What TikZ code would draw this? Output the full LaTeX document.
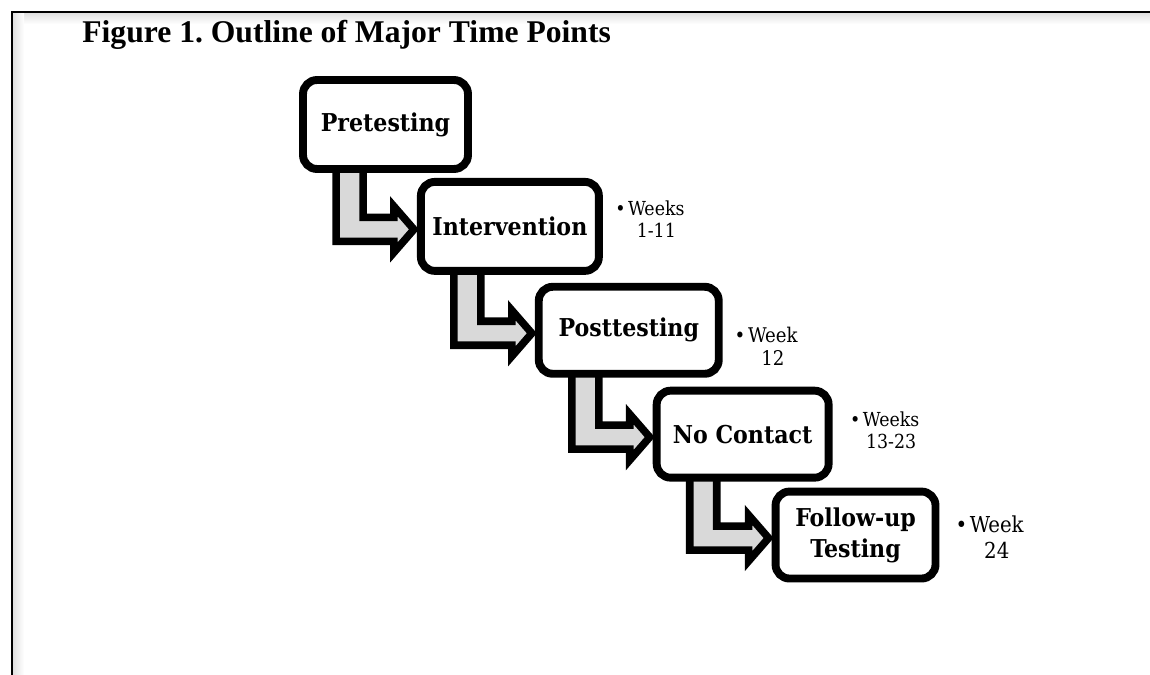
\documentclass[tikz,border=0pt]{standalone}
\usepackage{fontspec}
\setmainfont{DejaVu Serif Condensed}
\newfontfamily\titlefont{Liberation Serif}
\usetikzlibrary{positioning, calc, backgrounds}
\frenchspacing

\tikzset{
  stepbox/.style={rectangle, draw, rounded corners=0.28cm, line width=4.5pt, fill=white,
    inner sep=0pt, align=center, font=\fontsize{14}{17.5}\selectfont\bfseries},
  weeks/.style={inner sep=0pt, align=center, font=\fontsize{11}{12.5}\selectfont},
  bentarrow/.style={draw, line width=4.3pt, fill=black!15, line join=miter}
}

% bent arrow from the bottom of #1 into the left side of #2
\newcommand{\stepdown}[2]{%
  \coordinate (#1-a) at ($(#1.south west)+(37,-10)$);
  \coordinate (#1-b) at ($(#1.south west)+(64,-10)$);
  \coordinate (#1-t) at ($(#2.west)+(-3,3)$);
  \draw[bentarrow] (#1-a) |- ($(#1-t)+(-20,12)$) -- ++(0,11) -- (#1-t)
    -- ++(-20,-23) -- ++(0,11) -| (#1-b) -- cycle;
}
\newcommand{\wk}{\llap{\textbullet\hspace{1.5pt}}}

\begin{document}
\begin{tikzpicture}[x=0.02cm, y=-0.02cm]
  \useasboundingbox (0,0) rectangle (1150,675);

  % frame
  \shade[top color=black!12, bottom color=white] (13,13) rectangle (1150,24);
  \shade[left color=black!12, right color=white] (13,13) rectangle (24,675);
  \draw[line width=1.5pt] (12,675) -- (12,12) -- (1150,12);

  % title
  \node[anchor=base west, inner sep=0pt, font=\titlefont\bfseries\fontsize{18}{20}\selectfont]
    (T) at (82,43) {Figure 1. Outline of Major Time Points};

  % time points
  \node[stepbox, minimum width=3.3cm, minimum height=1.78cm] (PT) at (385.5,124.5) {Pretesting};
  \node[stepbox, minimum width=3.56cm, minimum height=1.78cm, below right=0.1cm and -1.1cm of PT] (IV) {Intervention};
  \node[stepbox, minimum width=3.6cm, minimum height=1.74cm, below right=0.16cm and -1.36cm of IV] (PO) {Posttesting};
  \node[stepbox, minimum width=3.44cm, minimum height=1.74cm, below right=0.18cm and -1.4cm of PO] (NC) {No Contact};
  \node[stepbox, minimum width=3.2cm, minimum height=1.74cm, below right=0.12cm and -1.22cm of NC] (FU) {Follow-up\\Testing};

  % weeks
  \node[weeks, right=0.5cm of IV, yshift=0.14cm] (LIV) {\wk Weeks\\1-11};
  \node[weeks, right=0.5cm of PO, yshift=-0.32cm, font=\fontsize{11.5}{13}\selectfont] (LPO) {\wk Week\\12};
  \node[weeks, right=0.6cm of NC, yshift=0.08cm] (LNC) {\wk Weeks\\13-23};
  \node[weeks, right=0.6cm of FU, yshift=-0.04cm, font=\fontsize{12.5}{14.5}\selectfont] (LFU) {\wk Week\\24};

  % arrows
  \begin{scope}[on background layer]
    \stepdown{PT}{IV}
    \stepdown{IV}{PO}
    \stepdown{PO}{NC}
    \stepdown{NC}{FU}
  \end{scope}
\end{tikzpicture}
\end{document}
